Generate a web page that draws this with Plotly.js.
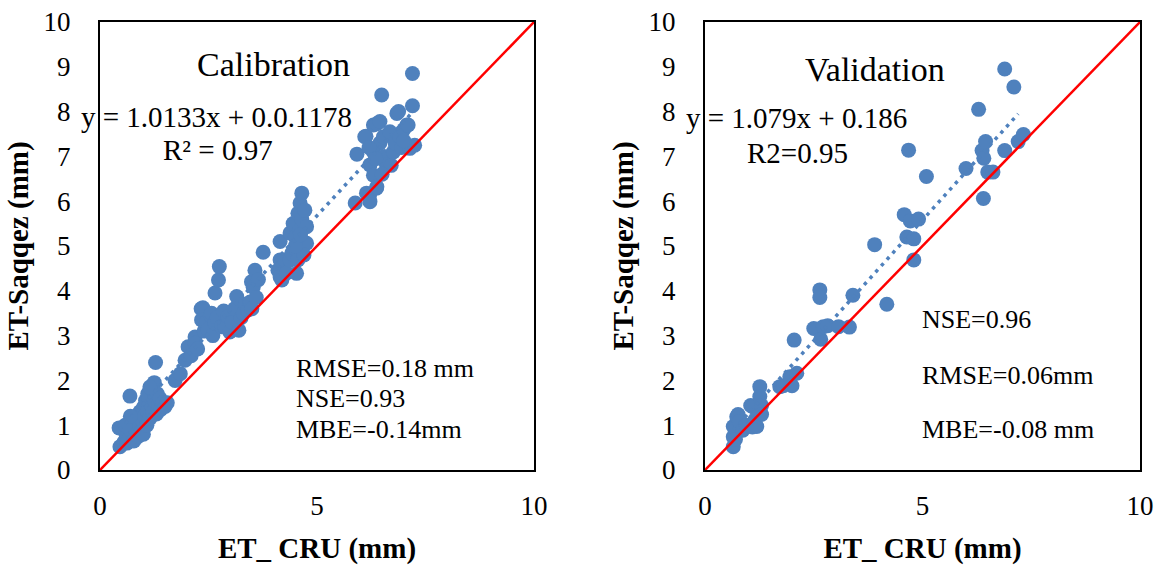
<!DOCTYPE html>
<html>
<head>
<meta charset="utf-8">
<script src="https://cdn.plot.ly/plotly-3.0.1.min.js"></script>
<style>
  html, body { margin: 0; padding: 0; background: #ffffff; }
  #chart { width: 1158px; height: 565px; }
</style>
</head>
<body>
<div id="chart"></div>
<script>
// ---------- Data ----------
// Calibration: ET_CRU (x) vs ET-Saqqez (y), mm
const calX = [0.46,0.44,0.55,0.60,0.62,0.65,0.68,0.69,0.72,0.75,0.78,0.80,0.82,0.85,0.88,0.90,0.92,0.95,0.98,1.00,1.00,1.02,1.05,1.08,1.10,1.10,1.12,1.15,1.18,1.20,1.22,1.25,1.25,1.28,1.30,1.32,1.35,1.38,1.40,1.45,1.50,1.55,0.58,0.70,1.15,
  1.73,1.85,1.96,2.03,2.10,2.19,2.19,2.25,
  2.33,2.37,2.34,2.40,2.45,2.49,2.55,2.57,2.60,2.65,2.65,2.70,2.73,2.75,2.80,2.85,2.88,2.95,2.99,3.05,3.10,3.15,3.20,3.25,3.30,3.35,3.41,3.46,3.50,3.49,3.57,3.53,3.60,3.76,
  3.65,4.10,4.15,4.19,4.15,4.15,4.26,4.30,4.38,4.38,4.42,4.45,4.50,4.53,4.53,4.56,4.56,4.60,4.61,4.65,4.65,4.68,4.72,4.76,4.76,4.70,4.50,4.62,
  5.88,5.92,6.13,6.14,6.21,6.22,6.22,6.30,6.30,6.30,6.37,6.38,6.38,6.45,6.49,6.45,6.53,6.55,6.60,6.68,6.71,6.76,6.80,6.84,6.88,6.91,6.95,7.00,7.07,7.10,7.14,7.20,7.20,7.25,6.10,6.20,6.35,6.50,7.00];
const calY = [0.52,0.94,0.62,0.80,0.60,1.00,0.70,1.65,0.88,1.05,0.65,1.15,0.90,1.20,0.75,1.00,1.30,0.85,1.10,0.80,1.40,1.20,1.55,1.00,1.30,1.70,1.60,1.15,1.45,1.80,1.30,1.95,1.55,2.40,1.25,1.70,1.45,1.60,1.35,1.50,1.42,1.50,1.00,1.20,1.85,
  2.00,2.15,2.45,2.75,2.55,2.97,2.83,2.70,
  3.60,3.62,3.35,3.10,3.30,3.13,3.45,3.50,3.00,3.28,3.95,3.40,4.24,4.54,3.20,3.55,3.20,3.42,3.08,3.30,3.60,3.87,3.12,3.40,3.50,3.70,3.57,3.75,3.60,4.20,4.46,4.08,3.85,4.86,
  4.25,4.46,4.31,4.24,4.69,5.10,4.69,4.40,4.69,5.29,4.84,5.50,5.20,4.39,4.91,4.69,5.73,5.35,5.96,6.18,5.60,5.10,5.80,5.43,5.06,4.80,5.00,5.25,
  5.96,7.05,7.45,6.18,6.12,6.81,5.99,7.70,7.10,6.58,6.29,7.73,6.32,7.78,8.37,7.30,7.44,7.00,6.81,7.55,6.80,7.10,7.30,7.96,8.00,7.44,7.20,7.60,7.70,7.70,7.18,8.85,8.13,7.25,7.44,7.20,6.95,6.60,7.35];

// Validation
const valX = [0.65,0.65,0.65,0.70,0.73,0.76,0.79,0.87,0.95,1.05,1.09,1.11,1.15,1.19,1.26,1.26,1.28,1.30,1.30,1.72,1.80,1.95,2.00,2.05,2.11,2.50,2.64,2.64,2.66,2.72,2.82,3.07,3.32,3.40,3.90,4.18,4.58,4.64,4.68,4.72,4.80,4.80,4.91,5.09,6.00,6.29,6.37,6.40,6.41,6.45,6.50,6.62,6.89,6.89,7.10,7.20,7.32];
const valY = [0.52,0.74,0.97,0.68,1.19,1.24,1.08,0.89,1.00,1.44,0.96,1.41,1.12,0.97,1.86,1.64,1.27,1.44,1.24,1.86,1.88,2.08,1.88,2.90,2.16,3.16,4.02,3.85,2.92,3.20,3.22,3.20,3.19,3.90,5.03,3.70,5.70,5.20,7.14,5.56,5.16,4.69,5.60,6.55,6.73,8.05,7.13,6.06,6.96,7.33,6.65,6.65,8.95,7.13,8.55,7.33,7.49];

// Dotted trend lines (end points)
const calTrendX = [0.45, 7.25];
const calTrendY = [0.90, 8.04];
const valTrendX = [0.65, 7.20];
const valTrendY = [0.89, 7.95];

// 1:1 reference line
const refX = [0, 10];
const refY = [0, 10];

// Tick labels
const yTicks = [0,1,2,3,4,5,6,7,8,9,10];
const xTicks = [0,5,10];

// Texts
const calTitle = 'Calibration';
const calEq = 'y = 1.0133x + 0.0.1178';
const calR2 = 'R² = 0.97';
const calStats = ['RMSE=0.18 mm', 'NSE=0.93', 'MBE=-0.14mm'];
const valTitle = 'Validation';
const valEq = 'y = 1.079x + 0.186';
const valR2 = 'R2=0.95';
const valStats = ['NSE=0.96', 'RMSE=0.06mm', 'MBE=-0.08 mm'];
const xTitle = 'ET_ CRU (mm)';
const yTitle = 'ET-Saqqez (mm)';

// ---------- Styling ----------
const FAM = 'Liberation Serif';
const BLUE = 'rgb(79,129,189)';
const RED = '#ff0000';
const W = 1158, H = 565;

function pts(x, y, xa, ya) {
  return { x: x, y: y, xaxis: xa, yaxis: ya, type: 'scatter', mode: 'markers',
    marker: { size: 15, color: BLUE }, hoverinfo: 'skip', cliponaxis: false };
}
function trend(x, y, xa, ya) {
  return { x: x, y: y, xaxis: xa, yaxis: ya, type: 'scatter', mode: 'lines',
    line: { color: BLUE, width: 3.5, dash: '3.5px,5px' }, hoverinfo: 'skip' };
}
function ref(xa, ya) {
  return { x: refX, y: refY, xaxis: xa, yaxis: ya, type: 'scatter', mode: 'lines',
    line: { color: RED, width: 2.5 }, hoverinfo: 'skip' };
}

const data = [
  pts(calX, calY, 'x', 'y'), trend(calTrendX, calTrendY, 'x', 'y'), ref('x', 'y'),
  pts(valX, valY, 'x2', 'y2'), trend(valTrendX, valTrendY, 'x2', 'y2'), ref('x2', 'y2')
];

const yDom = [1 - 470 / H, 1 - 22 / H];
function xAxis(domain, anchor) {
  return { domain: domain, anchor: anchor, range: [0, 10], tickvals: xTicks,
    showgrid: false, zeroline: false, showline: true, mirror: true, linecolor: 'black', linewidth: 2,
    ticks: '', ticklabelstandoff: 11, tickfont: { family: FAM, size: 27, color: 'black' },
    title: { text: '<b>' + xTitle + '</b>', font: { family: FAM, size: 29, color: 'black' }, standoff: 19 } };
}
function yAxis(anchor) {
  return { domain: yDom, anchor: anchor, range: [0, 10], tickvals: yTicks,
    showgrid: false, zeroline: false, showline: true, mirror: true, linecolor: 'black', linewidth: 2,
    ticks: '', ticklabelstandoff: 22, tickfont: { family: FAM, size: 27, color: 'black' },
    title: { text: '<b>' + yTitle + '</b>', font: { family: FAM, size: 29, color: 'black' }, standoff: 6 } };
}

// annotation placed by pixel position in the 1158x565 figure
function ann(text, px, py, size, xanchor) {
  return { text: text, x: px / W, y: 1 - py / H, xref: 'paper', yref: 'paper', showarrow: false,
    xanchor: xanchor, yanchor: 'middle', font: { family: FAM, size: size, color: 'black' } };
}

const annotations = [
  ann(calTitle, 273.5, 64.6, 34, 'center'),
  ann(calEq, 79, 117, 29, 'left'),
  ann(calR2, 218, 150, 29, 'center'),
  ann(calStats[0], 293.6, 368, 26, 'left'),
  ann(calStats[1], 293.6, 398.4, 26, 'left'),
  ann(calStats[2], 293.6, 429, 26, 'left'),
  ann(valTitle, 874.6, 70, 34, 'center'),
  ann(valEq, 684, 118.5, 29, 'left'),
  ann(valR2, 797, 152.5, 29, 'center'),
  ann(valStats[0], 919.5, 319.5, 26, 'left'),
  ann(valStats[1], 919.5, 375, 26, 'left'),
  ann(valStats[2], 919.5, 429, 26, 'left')
];

const layout = {
  width: W, height: H,
  margin: { l: 0, r: 0, t: 0, b: 0 },
  showlegend: false,
  xaxis: xAxis([100 / W, 534 / W], 'y'),
  yaxis: yAxis('x'),
  xaxis2: xAxis([705 / W, 1140 / W], 'y2'),
  yaxis2: yAxis('x2'),
  annotations: annotations
};

Plotly.newPlot('chart', data, layout, { staticPlot: true });
</script>
</body>
</html>
